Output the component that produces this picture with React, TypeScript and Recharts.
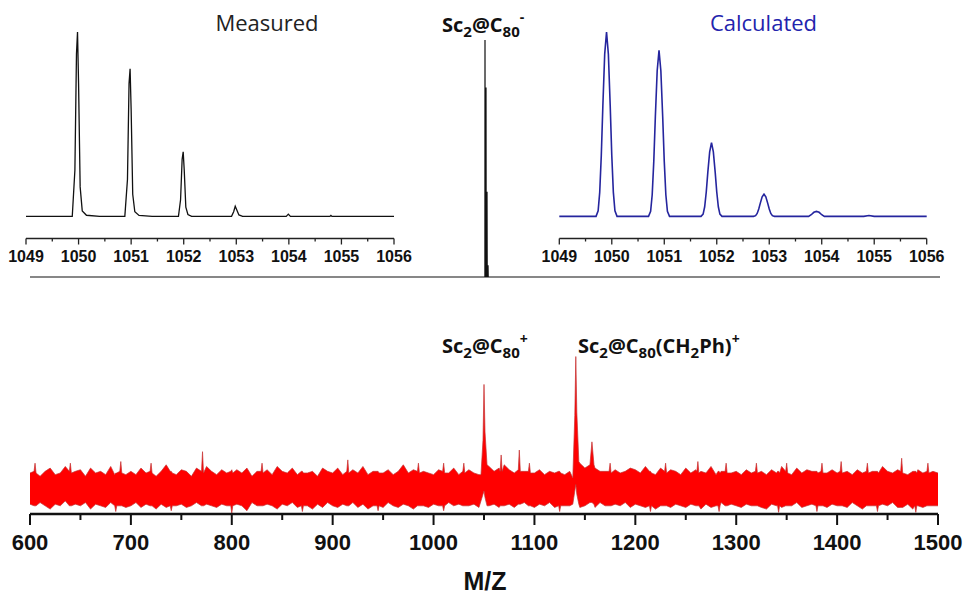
/**
 * Mass spectrum of Sc2@C80: negative-mode overview with measured / calculated
 * isotope insets on top, positive-mode spectrum (noisy, red) below.
 */

import { LineChart, Line, AreaChart, Area, XAxis, YAxis } from 'recharts';

// ---- Top panel: negative-mode overview (relative intensity, %) ----
const overviewMz = [600, 1049.6, 1049.9, 1050, 1050.2, 1050.9, 1051, 1051.2, 1051.9, 1052, 1052.2, 1052.9, 1053, 1053.2, 1500];
const overviewInt = [0, 0, 0, 100, 0, 0, 80, 0, 0, 36, 0, 0, 5, 0, 0];

// ---- Inset: measured isotope pattern ----
const measuredMz = [
  1049.0, 1049.88, 1049.93, 1049.96, 1049.98, 1050.0, 1050.03, 1050.07, 1050.15, 1050.4,
  1050.88, 1050.93, 1050.96, 1050.98, 1051.0, 1051.03, 1051.07, 1051.15, 1051.4,
  1051.9, 1051.94, 1051.97, 1051.99, 1052.01, 1052.04, 1052.08, 1052.15,
  1052.91, 1052.95, 1052.98, 1053.01, 1053.05, 1053.12,
  1053.95, 1053.99, 1054.03, 1054.78, 1054.8, 1054.82, 1056.0,
];
const measuredInt = [
  0, 0, 25, 88, 100, 72, 16, 3, 0.6, 0,
  0, 20, 72, 80, 58, 12, 2.5, 0.5, 0,
  0, 9, 31, 35, 25, 5, 1, 0,
  0, 2.5, 5.5, 3.5, 0.8, 0,
  0, 1.2, 0, 0, 0.5, 0, 0,
];

// ---- Inset: calculated isotope pattern ----
const calculatedMz = [
  1049.0, 1049.7, 1049.74, 1049.77, 1049.8, 1049.83, 1049.865, 1049.9, 1049.935, 1049.97, 1050.0, 1050.03, 1050.06, 1050.1,
  1050.7, 1050.74, 1050.77, 1050.8, 1050.83, 1050.865, 1050.9, 1050.935, 1050.97, 1051.0, 1051.03, 1051.06, 1051.1,
  1051.7, 1051.74, 1051.77, 1051.8, 1051.83, 1051.865, 1051.9, 1051.935, 1051.97, 1052.0, 1052.03, 1052.06, 1052.1,
  1052.7, 1052.74, 1052.77, 1052.8, 1052.83, 1052.865, 1052.9, 1052.935, 1052.97, 1053.0, 1053.03, 1053.06, 1053.1,
  1053.75, 1053.8, 1053.85, 1053.9, 1053.95, 1054.0, 1054.05,
  1054.8, 1054.9, 1055.0, 1056.0,
];
const calculatedInt = [
  0, 0, 3, 13, 33, 60, 88, 100, 88, 60, 33, 13, 3, 0,
  0, 2.7, 11.7, 29.7, 54, 79, 90, 79, 54, 29.7, 11.7, 2.7, 0,
  0, 1.2, 5.2, 13.2, 24, 35, 40, 35, 24, 13.2, 5.2, 1.2, 0,
  0, 0.4, 1.6, 4, 7.2, 10.6, 12, 10.6, 7.2, 4, 1.6, 0.4, 0,
  0, 0.9, 2.2, 2.7, 2.2, 0.9, 0,
  0, 0.5, 0, 0,
];
const insetTicks = [1049, 1049.5, 1050, 1050.5, 1051, 1051.5, 1052, 1052.5, 1053, 1053.5, 1054, 1054.5, 1055, 1055.5, 1056];

// ---- Bottom panel: positive-mode spectrum, noise envelope every 5 m/z ----
const noiseStart = 600;
const noiseStep = 5;
const noiseHigh = [
  25, 27, 23, 26, 28, 24, 25, 29, 24, 26, 27, 23, 28, 25, 26, 24, 29, 25, 27, 24,
  26, 24, 28, 25, 27, 23, 26, 30, 25, 24, 27, 26, 23, 28, 25, 29, 26, 24, 27, 25,
  24, 27, 25, 28, 23, 26, 25, 27, 24, 29, 26, 25, 28, 24, 27, 25, 26, 23, 28, 26,
  25, 28, 24, 26, 27, 25, 29, 24, 26, 28, 25, 27, 24, 26, 30, 25, 27, 24, 26, 25,
  24, 27, 26, 25, 28, 24, 26, 27, 25, 24, 27, 29, 26, 28, 30, 27, 25, 29, 26, 28,
  25, 27, 24, 26, 25, 28, 24, 26, 23, 31, 28, 30, 28, 26, 26, 25, 27, 25, 26, 28,
  27, 25, 29, 26, 24, 28, 25, 27, 26, 24, 28, 25, 27, 26, 25, 29, 24, 26, 28, 25,
  26, 24, 27, 25, 28, 26, 24, 27, 25, 29, 26, 24, 28, 25, 27, 26, 24, 28, 25, 27,
  25, 28, 26, 24, 27, 25, 28, 26, 24, 29, 26, 25, 27, 28, 24, 26, 27, 25, 28, 26,
  25,
];
const noiseLow = [
  6, 4, 7, 5, 3, 6, 5, 8, 4, 6, 5, 7, 3, 6, 5, 4, 7, 5, 6, 4,
  5, 7, 4, 6, 5, 3, 6, 4, 7, 5, 6, 4, 5, 7, 3, 6, 5, 4, 6, 5,
  4, 6, 5, 2, 7, 5, 4, 6, 5, 3, 6, 5, 7, 4, 6, 5, 3, 6, 4, 7,
  5, 4, 6, 5, 7, 4, 6, 3, 5, 6, 4, 7, 5, 4, 6, 5, 3, 6, 5, 4,
  6, 5, 4, 7, 5, 6, 4, 5, 6, 4, 7, 5, 6, 4, 5, 6, 4, 5, 7, 5,
  4, 6, 5, 7, 4, 6, 5, 5, 6, 4, 5, 6, 4, 7, 5, 4, 6, 5, 7, 4,
  6, 5, 4, 6, 3, 5, 7, 4, 6, 5, 4, 6, 5, 3, 6, 4, 5, 7, 4, 6,
  5, 4, 6, 5, 7, 4, 3, 6, 5, 4, 6, 5, 7, 4, 5, 6, 3, 5, 4, 6,
  5, 6, 4, 7, 5, 3, 6, 5, 4, 6, 5, 7, 4, 5, 6, 3, 5, 4, 6, 5,
  5,
];
// peaks and narrow spikes standing out of the noise: [m/z, low, high]
const spikes: [number, number, number][] = [
  [604, 5, 26], [605, 5, 31], [606, 5, 25],
  [639, 5, 26], [640, 5, 31], [641, 5, 25],
  [684, 5, 24], [685, 1.5, 25], [686, 5, 25],
  [689, 5, 26], [690, 5, 32], [691, 5, 25],
  [719, 5, 26], [720, 5, 31], [721, 5, 25],
  [739, 5, 26], [740, 2, 26], [741, 5, 25],
  [770, 5, 26], [771, 5, 38], [772, 5, 25],
  [799, 5, 26], [800, 0.5, 27], [801, 5, 25],
  [829, 5, 26], [830, 5, 31], [831, 5, 25],
  [869, 5, 26], [870, 1.5, 26], [871, 5, 25],
  [914, 5, 26], [915, 5, 33], [916, 5, 25],
  [944, 5, 26], [945, 2, 26], [946, 5, 25],
  [984, 5, 26], [985, 5, 31], [986, 5, 25],
  [1009, 5, 26], [1010, 2, 31], [1011, 5, 25],
  [1029, 5, 26], [1030, 5, 31], [1031, 5, 25],
  [1047, 8, 24], [1049, 12, 45], [1050, 14, 79], [1051, 10, 50], [1053, 5, 30],
  [1066, 5, 26], [1067, 5, 36], [1068, 5, 26],
  [1084, 6, 27], [1085, 6, 39], [1086, 6, 26],
  [1094, 5, 26], [1095, 5, 31], [1096, 5, 25],
  [1124, 5, 26], [1125, 1.5, 26], [1126, 5, 25],
  [1138, 6, 22], [1140, 14, 60], [1141, 18, 96], [1142, 12, 62], [1144, 6, 32],
  [1155, 7, 30], [1157, 7, 44], [1159, 6, 30],
  [1174, 5, 26], [1175, 5, 31], [1176, 5, 25],
  [1214, 5, 26], [1215, 1.5, 26], [1216, 5, 25],
  [1229, 5, 26], [1230, 5, 31], [1231, 5, 25],
  [1261, 5, 26], [1262, 5, 32], [1263, 5, 25],
  [1282, 5, 26], [1283, 1.5, 26], [1284, 5, 25],
  [1289, 5, 26], [1290, 5, 31], [1291, 5, 25],
  [1319, 5, 26], [1320, 5, 31], [1321, 5, 25],
  [1341, 5, 26], [1342, 1, 26], [1343, 5, 25],
  [1349, 5, 26], [1350, 5, 31], [1351, 5, 25],
  [1379, 5, 26], [1380, 1.5, 26], [1381, 5, 25],
  [1384, 5, 26], [1385, 5, 31], [1386, 5, 25],
  [1403, 5, 26], [1404, 5, 32], [1405, 5, 25],
  [1429, 5, 26], [1430, 5, 31], [1431, 5, 25],
  [1439, 5, 26], [1440, 1.5, 26], [1441, 5, 25],
  [1463, 4, 26], [1464, 4, 34], [1465, 4, 25],
  [1477, 5, 26], [1478, 1, 26], [1479, 5, 25],
  [1489, 5, 26], [1490, 5, 31], [1491, 5, 25],
];
const bottomTicks = [600, 650, 700, 750, 800, 850, 900, 950, 1000, 1050, 1100, 1150, 1200, 1250, 1300, 1350, 1400, 1450, 1500];

const overviewData = overviewMz.map((mz, i) => ({ mz, v: overviewInt[i] }));
const measuredData = measuredMz.map((mz, i) => ({ mz, v: measuredInt[i] }));
const calculatedData = calculatedMz.map((mz, i) => ({ mz, v: calculatedInt[i] }));

// noise grid + spikes, a spike replaces the grid point at the same m/z
const spikeMz = new Set(spikes.map((s) => s[0]));
const positiveData = [
  ...noiseHigh
    .map((high, i) => ({ mz: noiseStart + i * noiseStep, band: [noiseLow[i], high] }))
    .filter((d) => !spikeMz.has(d.mz)),
  ...spikes.map(([mz, low, high]) => ({ mz, band: [low, high] })),
].sort((a, b) => a.mz - b.mz);

const ARIAL = "'Liberation Sans', Arial, sans-serif";
const CALIBRI = "'Open Sans', 'Noto Sans', sans-serif";

function InsetTick({ x, y, payload }: any) {
  const major = Number.isInteger(payload.value);
  return (
    <g>
      <line x1={x} x2={x} y1={y} y2={y + (major ? 6 : 3)} stroke="#222" strokeWidth={1.3} />
      {major && (
        <text x={x} y={y + 23} textAnchor="middle" fontFamily={ARIAL} fontWeight="bold" fontSize={16} fill="#111">
          {payload.value}
        </text>
      )}
    </g>
  );
}

function BottomTick({ x, y, payload }: any) {
  const major = payload.value % 100 === 0;
  return (
    <g>
      <line x1={x} x2={x} y1={y} y2={y + (major ? 11 : 6)} stroke="#111" strokeWidth={2} />
      {major && (
        <text x={x} y={y + 36} textAnchor="middle" fontFamily={ARIAL} fontWeight="bold" fontSize={22} fill="#111">
          {payload.value}
        </text>
      )}
    </g>
  );
}

function Inset({ data, color, width, left, right, strokeWidth }: any) {
  return (
    <LineChart width={width} height={280} data={data} margin={{ top: 32, right, bottom: 11.5, left }}>
      <XAxis
        dataKey="mz"
        type="number"
        domain={[1049, 1056]}
        ticks={insetTicks}
        interval={0}
        height={30}
        tickSize={0}
        tickMargin={0}
        tick={<InsetTick />}
        axisLine={{ stroke: '#222', strokeWidth: 1.3 }}
      />
      <YAxis hide domain={[-12, 100]} />
      <Line dataKey="v" type="linear" stroke={color} strokeWidth={strokeWidth} dot={false} isAnimationActive={false} />
    </LineChart>
  );
}

export default function App() {
  return (
    <div style={{ position: 'absolute', left: 0, top: 0, width: 964, height: 598, background: '#fff' }}>
      {/* negative mode overview */}
      <div style={{ position: 'absolute', left: 0, top: 0 }}>
        <LineChart width={964} height={300} data={overviewData} margin={{ top: 40, right: 24, bottom: 23, left: 30 }}>
          <XAxis dataKey="mz" type="number" domain={[600, 1500]} hide />
          <YAxis hide domain={[0, 100]} />
          <Line dataKey="v" type="linear" stroke="#111" strokeWidth={1.2} dot={false} isAnimationActive={false} />
        </LineChart>
      </div>

      {/* measured inset */}
      <div style={{ position: 'absolute', left: 0, top: 0 }}>
        <Inset data={measuredData} color="#111" width={420} left={26} right={26} strokeWidth={1.3} />
      </div>

      {/* calculated inset */}
      <div style={{ position: 'absolute', left: 530, top: 0 }}>
        <Inset data={calculatedData} color="#25259e" width={430} left={29.3} right={33.3} strokeWidth={1.6} />
      </div>

      {/* positive mode */}
      <div style={{ position: 'absolute', left: 0, top: 300 }}>
        <AreaChart width={964} height={298} data={positiveData} margin={{ top: 50, right: 26, bottom: 44, left: 30 }}>
          <XAxis
            dataKey="mz"
            type="number"
            domain={[600, 1500]}
            ticks={bottomTicks}
            interval={0}
            height={40}
            tickSize={0}
            tickMargin={0}
            tick={<BottomTick />}
            axisLine={{ stroke: '#111', strokeWidth: 2.5 }}
          />
          <YAxis hide domain={[0, 100]} />
          <Area
            dataKey="band"
            type="linear"
            fill="#ff0000"
            fillOpacity={1}
            stroke="#c43434"
            strokeWidth={0.7}
            dot={false}
            isAnimationActive={false}
          />
        </AreaChart>
      </div>

      {/* titles and peak labels */}
      <svg width={964} height={598} style={{ position: 'absolute', left: 0, top: 0, pointerEvents: 'none' }}>
        <text x={267} y={31} textAnchor="middle" fontFamily={CALIBRI} fontSize={22} fill="#222">Measured</text>
        <text x={763.5} y={31} textAnchor="middle" fontFamily={CALIBRI} fontSize={22} fill="#2323ad">Calculated</text>
        <text x={442} y={31.5} fontFamily={CALIBRI} fontWeight="bold" fontSize={20} fill="#111">
          Sc<tspan fontSize={15} dy={5}>2</tspan>
          <tspan dy={-5}>@C</tspan>
          <tspan fontSize={15} dy={5}>80</tspan>
          <tspan fontSize={14} dy={-15}>-</tspan>
        </text>
        <text x={442} y={352.5} fontFamily={CALIBRI} fontWeight="bold" fontSize={20} fill="#111">
          Sc<tspan fontSize={15} dy={5}>2</tspan>
          <tspan dy={-5}>@C</tspan>
          <tspan fontSize={15} dy={5}>80</tspan>
          <tspan fontSize={14} dy={-14}>+</tspan>
        </text>
        <text x={578} y={352.5} fontFamily={CALIBRI} fontWeight="bold" fontSize={20} fill="#111">
          Sc<tspan fontSize={15} dy={5}>2</tspan>
          <tspan dy={-5}>@C</tspan>
          <tspan fontSize={15} dy={5}>80</tspan>
          <tspan dy={-5}>(CH</tspan>
          <tspan fontSize={15} dy={5}>2</tspan>
          <tspan dy={-5}>Ph)</tspan>
          <tspan fontSize={14} dy={-9}>+</tspan>
        </text>
        <text x={485} y={590} textAnchor="middle" fontFamily={ARIAL} fontWeight="bold" fontSize={25} fill="#111">M/Z</text>
      </svg>
    </div>
  );
}
